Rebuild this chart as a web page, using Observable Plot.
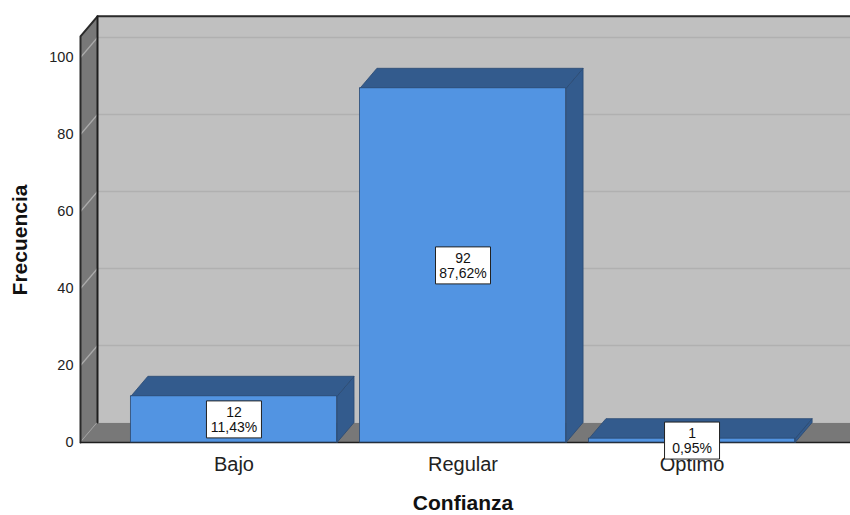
<!DOCTYPE html>
<html><head><meta charset="utf-8">
<script src="https://cdn.jsdelivr.net/npm/d3@7"></script>
<script src="https://cdn.jsdelivr.net/npm/@observablehq/plot@0.6"></script>
<style>body{margin:0;background:#fff;}</style>
</head><body><div id="chart"></div>
<script>
// ---- data ----
const categories = ["Bajo", "Regular", "Óptimo"];
const frequencies = [12, 92, 1];
const percentLabels = ["11,43%", "87,62%", "0,95%"];
const yTicks = [0, 20, 40, 60, 80, 100];
const xTitle = "Confianza";
const yTitle = "Frecuencia";

// ---- layout ----
const W = 850, H = 515;
const mL = 80, mR = 5, mT = 57, mB = 73;
const xDomain = [-0.67, 2.67];
const yDomain = [0, 100];
const wallTop = 105.5;
const depthPx = [17, -20];
const barHalf = 0.45;

const pxPerX = (W - mL - mR) / (xDomain[1] - xDomain[0]);
const pxPerY = (H - mT - mB) / (yDomain[1] - yDomain[0]);
const DX = depthPx[0] / pxPerX;
const DY = -depthPx[1] / pxPerY;
const x0 = xDomain[0], x1 = xDomain[1];

const poly = (id, pts) => pts.concat([pts[0]]).map(([x, y]) => ({id, x, y}));
const path = (id, pts) => pts.map(([x, y]) => ({id, x, y}));

const backWall = [{x1: x0 + DX, x2: x1 + DX + 0.2, y1: DY, y2: wallTop + DY}];
const leftWall = poly("l", [[x0, 0], [x0, wallTop], [x0 + DX, wallTop + DY], [x0 + DX, DY]]);
const floor = poly("f", [[x0, 0], [x1 + 0.02, 0], [x1 + 0.02 + DX, DY], [x0 + DX, DY]]);

const bars = categories.map((c, i) => ({c, i, v: frequencies[i], xl: i - barHalf, xr: i + barHalf}));
const tops = bars.flatMap(b => poly("t" + b.i, [[b.xl, b.v], [b.xr, b.v], [b.xr + DX, b.v + DY], [b.xl + DX, b.v + DY]]));
const sides = bars.flatMap(b => poly("s" + b.i, [[b.xr, 0], [b.xr + DX, DY], [b.xr + DX, b.v + DY], [b.xr, b.v]]));

const outlineOuter = path("o", [[x0, 0], [x0, wallTop], [x0 + DX, wallTop + DY], [x1 + DX + 0.2, wallTop + DY]]);
const outlineBack = path("b", [[x0 + DX, DY], [x0 + DX, wallTop + DY]]);
const outlineFloor = path("fl", [[x0, 0], [x1 + 0.02, 0], [x1 + 0.02 + DX, DY]]);

const boxSymbol = {draw(ctx) { ctx.rect(-27.5, -18.5, 55, 37); }};

const frontColor = "#5294e2";
const darkColor = "#335b8d";
const edgeColor = "#2b4a72";

const chart = Plot.plot({
  width: W, height: H,
  marginLeft: mL, marginRight: mR, marginTop: mT, marginBottom: mB,
  x: {domain: xDomain},
  y: {domain: yDomain},
  style: {fontFamily: "'Liberation Sans', Arial, sans-serif", color: "#222", background: "white"},
  marks: [
    Plot.rect(backWall, {x1: "x1", x2: "x2", y1: "y1", y2: "y2", fill: "#c0c0c0"}),
    Plot.ruleY(yTicks.slice(1), {y: d => d + DY, x1: x0 + DX, x2: x1 + DX + 0.2, stroke: "#b0b0b0", strokeWidth: 1.5}),
    Plot.line(leftWall, {x: "x", y: "y", z: "id", fill: "#787878", stroke: "none"}),
    Plot.link(yTicks, {x1: x0, y1: d => d, x2: x0 + DX, y2: d => d + DY, stroke: "#ababab", strokeWidth: 1.2}),
    Plot.line(floor, {x: "x", y: "y", z: "id", fill: "#787878", stroke: "none"}),
    Plot.line(outlineOuter, {x: "x", y: "y", z: "id", stroke: "#2a2a2a", strokeWidth: 2}),
    Plot.line(outlineBack, {x: "x", y: "y", z: "id", stroke: "#1e1e1e", strokeWidth: 2}),
    Plot.line(outlineFloor, {x: "x", y: "y", z: "id", stroke: "#1e1e1e", strokeWidth: 1.5}),
    Plot.line(sides, {x: "x", y: "y", z: "id", fill: darkColor, stroke: edgeColor, strokeWidth: 0.8}),
    Plot.line(tops, {x: "x", y: "y", z: "id", fill: darkColor, stroke: edgeColor, strokeWidth: 0.8}),
    Plot.rect(bars, {x1: "xl", x2: "xr", y1: 0, y2: "v", fill: frontColor, stroke: edgeColor, strokeWidth: 0.8}),
    Plot.axisY(yTicks, {tickSize: 0, tickPadding: 7, fontSize: 14.5, label: null}),
    Plot.axisX([0, 1, 2], {tickSize: 0, tickPadding: 14, tickFormat: i => categories[i], fontSize: 20, label: null}),
    Plot.dot(bars, {x: "i", y: d => d.v / 2, symbol: boxSymbol, r: 5, fill: "white", stroke: "#222", strokeWidth: 1}),
    Plot.text(bars, {x: "i", y: d => d.v / 2, text: d => `${d.v}\n${percentLabels[d.i]}`, fontSize: 14, lineHeight: 1.07, fill: "#111"}),
    Plot.text([yTitle], {frameAnchor: "left", textAnchor: "middle", lineAnchor: "middle", rotate: -90, dx: -60, dy: -10, fontSize: 21, fontWeight: "bold", fill: "#111"}),
    Plot.text([xTitle], {frameAnchor: "bottom", lineAnchor: "middle", dy: 61, fontSize: 21, fontWeight: "bold", fill: "#111"})
  ]
});
document.getElementById("chart").appendChild(chart);
</script>
</body></html>
